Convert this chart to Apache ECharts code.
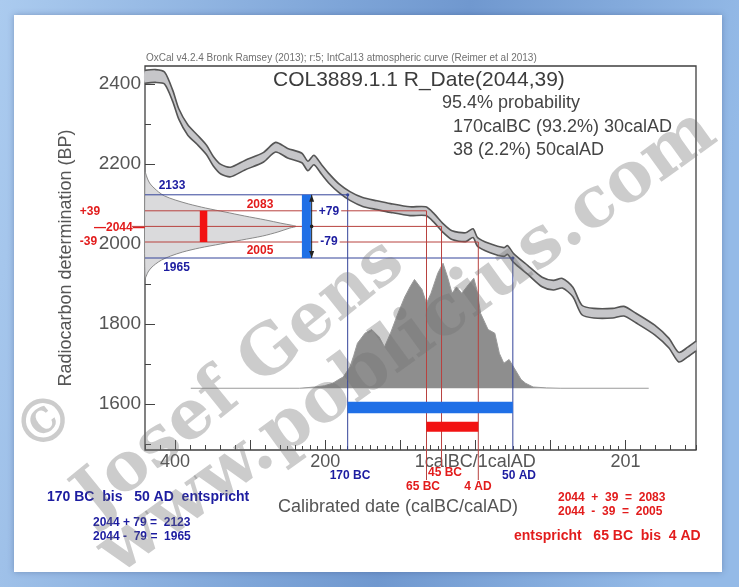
<!DOCTYPE html>
<html>
<head>
<meta charset="utf-8">
<script src="https://cdn.jsdelivr.net/npm/echarts@6/dist/echarts.min.js"></script>
<style>
html,body{margin:0;padding:0;background:#fff;}
#c{width:739px;height:587px;}
</style>
</head>
<body>
<div id="c"></div>
<script>
// ---------- DATA ----------
// IntCal13 calibration curve: calendar year (BC negative) -> radiocarbon age BP, with 1-sigma half width
const calYears = [-440,-426,-414,-403,-395,-383,-370,-358,-349,-339,-326,-307,-282,-266,-250,-231,-223,-215,-205,-194,-182,-167,-150,-131,-113,-87,-66,-55,-43,-31,-13,-3,3,19,38,43,51,70,89,104,116,130,142,158,183,198,214,239,258,271,283,294];
const calBP    = [2418,2420,2415,2370,2325,2285,2260,2235,2207,2187,2180,2197,2217,2242,2227,2215,2195,2210,2187,2162,2140,2120,2105,2097,2090,2082,2082,2065,2040,2022,2017,2027,2005,1990,1980,1985,1965,1935,1905,1897,1902,1880,1835,1827,1827,1832,1815,1785,1752,1717,1730,1745];
const calErr   = [16,16,15,14,13,13,12,12,12,12,12,12,12,12,12,12,12,12,12,12,11,11,11,11,11,11,11,11,11,11,11,11,11,11,11,11,11,11,12,12,12,12,12,12,12,12,12,12,12,12,12,12];

// Radiocarbon determination R_Date(2044,39): BP -> relative probability
const rDensBP = [2180,2170,2160,2150,2140,2130,2120,2110,2100,2090,2080,2070,2060,2052,2047,2044,2040,2030,2020,2010,2000,1990,1980,1970,1960,1950,1940,1930,1915];
const rDens   = [0,0.01,0.02,0.035,0.06,0.09,0.13,0.2,0.29,0.4,0.53,0.66,0.8,0.9,0.97,1.0,0.96,0.88,0.78,0.64,0.5,0.36,0.25,0.17,0.11,0.07,0.04,0.02,0];

// Calibrated date distribution: calendar year -> relative probability
const postYears = [-379,-234,-214,-201,-190,-182,-176,-167,-162,-157,-147,-138,-128,-121,-113,-103,-94,-87,-81,-71,-65,-59,-50,-43,-37,-31,-25,-18,-9,-2,2,7,17,26,32,38,45,51,61,67,77,95,113,231];
const postDens  = [0,0,0.01,0.02,0.04,0.07,0.09,0.17,0.26,0.36,0.44,0.47,0.41,0.33,0.44,0.60,0.73,0.81,0.87,0.79,0.68,0.76,0.92,1.00,0.89,0.76,0.81,0.76,0.83,0.88,0.79,0.60,0.47,0.44,0.28,0.20,0.23,0.17,0.07,0.04,0.01,0.003,0,0];

// Tick labels
const xLabelValues = [-400,-200,0,200];
const xLabelTexts  = ['400','200','1calBC/1calAD','201'];
const xMajorTicks  = [-400,-300,-200,-100,0,100,200];
const yLabelValues = [1600,1800,2000,2200,2400];
const yMidTicks    = [1500,1700,1900,2100,2300];

// Annotation values
const rDate = 2044, sigma = 39;
const sigma1 = [2083, 2005];      // 2044 +/- 39
const sigma2 = [2123, 1965];      // 2044 +/- 79
const range95 = [-170, 50];       // 170 BC .. 50 AD
const range68 = [-65, 4];         // 65 BC .. 4 AD
const meanYear = -45;             // 45 BC

// ---------- LAYOUT / STYLE ----------
const X_MIN = -440, X_MAX = 294, Y_MIN = 1485, Y_MAX = 2445;
const DENS_X_MAX = 3.65, POST_Y_MIN = -0.494, POST_Y_MAX = 2.578;
const FONT = '"Liberation Sans", Arial, Helvetica, sans-serif';
const BLUE_T = '#1c1ca0', RED_T = '#e21c1c';
const BLUE_L = '#34449a', RED_L = '#b8423f';
const BLUE_BAR = '#1f6fe6', RED_BAR = '#f21212';

const xFineTicks = [];
for (let v = -250; v <= 190; v += 20) xFineTicks.push(v);
const yFineTicks = [];
for (let v = 1940; v <= 2150; v += 10) yFineTicks.push(v);

const tickStyle = {color:'#444', width:1};

function T(text, x, y, o) {
  o = o || {};
  const align = o.align || 'center';
  const va = o.va || 'middle';
  const st = {
    text: text, fill: o.color || '#444',
    fontSize: o.size || 12, fontWeight: o.weight || 'normal',
    fontFamily: o.family || FONT,
    align: align, verticalAlign: va, textAlign: align, textVerticalAlign: va
  };
  if (o.bg) { st.backgroundColor = o.bg; st.padding = [0, 2]; }
  const el = {type:'text', x:x, y:y, z: o.z || 50, silent:true, style: st};
  if (o.rot) el.rotation = o.rot;
  return el;
}

const WM_FONT = '"DejaVu Serif", "Liberation Serif", serif';
const WM_COLOR = 'rgba(115,115,115,0.36)';

const graphics = [
  {type:'rect', z:-10, silent:true, shape:{x:14,y:15,width:708,height:557},
   style:{fill:'#ffffff', shadowBlur:6, shadowColor:'rgba(40,60,110,0.35)'}},
  T('OxCal v4.2.4 Bronk Ramsey (2013); r:5; IntCal13 atmospheric curve (Reimer et al 2013)', 146, 58, {align:'left', size:10, color:'#707070'}),
  T('COL3889.1.1 R_Date(2044,39)', 273, 80, {align:'left', size:21, color:'#3c3c3c'}),
  T('95.4% probability', 442, 103, {align:'left', size:18, color:'#444'}),
  T('170calBC (93.2%) 30calAD', 453, 127, {align:'left', size:18, color:'#444'}),
  T('38 (2.2%) 50calAD', 453, 150, {align:'left', size:18, color:'#444'}),
  // y-side annotations
  T('2133', 172, 186, {size:12, weight:'bold', color:BLUE_T}),
  T('1965', 176.5, 268, {size:12, weight:'bold', color:BLUE_T}),
  T('2083', 260, 205, {size:12, weight:'bold', color:RED_T}),
  T('2005', 260, 251, {size:12, weight:'bold', color:RED_T}),
  T('+39', 90, 212, {size:12, weight:'bold', color:RED_T}),
  T('-39', 88.5, 241.5, {size:12, weight:'bold', color:RED_T}),
  T('\u20142044\u2014', 94, 227.5, {align:'left', size:12, weight:'bold', color:RED_T}),
  T('+79', 329, 211.5, {size:12, weight:'bold', color:BLUE_T, bg:'#ffffff'}),
  T('-79', 329, 242, {size:12, weight:'bold', color:BLUE_T, bg:'#ffffff'}),
  // x-side annotations
  T('170 BC', 350, 476, {size:12, weight:'bold', color:BLUE_T}),
  T('50 AD', 519, 476, {size:12, weight:'bold', color:BLUE_T}),
  T('45 BC', 445, 473, {size:12, weight:'bold', color:RED_T}),
  T('65 BC', 423, 486.5, {size:12, weight:'bold', color:RED_T}),
  T('4 AD', 478, 486.5, {size:12, weight:'bold', color:RED_T}),
  T('Calibrated date (calBC/calAD)', 398, 507, {size:18, color:'#555'}),
  T('170 BC  bis   50 AD  entspricht', 47, 497.5, {align:'left', size:14, weight:'bold', color:BLUE_T}),
  T('2044 + 79 =  2123', 93, 522.5, {align:'left', size:12, weight:'bold', color:BLUE_T}),
  T('2044 -  79 =  1965', 93, 537, {align:'left', size:12, weight:'bold', color:BLUE_T}),
  T('2044  +  39  =  2083', 558, 497.5, {align:'left', size:12, weight:'bold', color:RED_T}),
  T('2044  -  39  =  2005', 558, 512, {align:'left', size:12, weight:'bold', color:RED_T}),
  T('entspricht   65 BC  bis  4 AD', 514, 536, {align:'left', size:14, weight:'bold', color:RED_T}),
  // watermark
  T('\u00A9', 47, 425, {size:60, weight:'bold', family:WM_FONT, color:WM_COLOR, rot:0.68, z:100}),
  T('Josef Gens', 240, 380, {size:68, weight:'bold', family:WM_FONT, color:WM_COLOR, rot:0.68, z:100}),
  T('www.poblicius.com', 408, 343, {size:70, weight:'bold', family:WM_FONT, color:WM_COLOR, rot:0.627, z:100})
];

const chart = echarts.init(document.getElementById('c'), null, {renderer:'canvas'});

function hiddenLine() { return {show:false, onZero:false}; }

const option = {
  animation: false,
  backgroundColor: {type:'linear', x:0, y:0, x2:1, y2:0.2, colorStops:[
    {offset:0, color:'#abcbef'}, {offset:0.45, color:'#7ea5d8'},
    {offset:0.62, color:'#7098cf'}, {offset:1, color:'#94bae7'}]},
  grid: {left:145, right:43, top:66, bottom:137, show:true, borderColor:'#3f3f3f', borderWidth:1.3,
         backgroundColor:'transparent', containLabel:false, outerBoundsMode:'none'},
  graphic: graphics,
  xAxis: [
    {type:'value', min:X_MIN, max:X_MAX, interval:20, position:'bottom',
     axisLine:hiddenLine(), splitLine:{show:false},
     axisTick:{show:true, inside:true, length:5, lineStyle:tickStyle},
     axisLabel:{customValues:xLabelValues, formatter:function(v){const i = xLabelValues.indexOf(v); return i >= 0 ? xLabelTexts[i] : '';},
                color:'#555', fontSize:18, fontFamily:FONT, margin:3}},
    {type:'value', min:X_MIN, max:X_MAX, position:'bottom',
     axisLine:hiddenLine(), splitLine:{show:false},
     axisTick:{show:true, inside:true, length:10, customValues:xMajorTicks, lineStyle:tickStyle},
     axisLabel:{show:false}},
    {type:'value', min:0, max:DENS_X_MAX, position:'top', show:false, axisLine:hiddenLine(), splitLine:{show:false}},
    {type:'value', min:X_MIN, max:X_MAX, position:'bottom',
     axisLine:hiddenLine(), splitLine:{show:false},
     axisTick:{show:true, inside:true, length:4, customValues:xFineTicks, lineStyle:tickStyle},
     axisLabel:{show:false}}
  ],
  yAxis: [
    {type:'value', min:Y_MIN, max:Y_MAX, position:'left',
     axisLine:hiddenLine(), splitLine:{show:false},
     axisTick:{show:true, inside:true, length:10, customValues:yLabelValues, lineStyle:tickStyle},
     axisLabel:{customValues:yLabelValues, formatter:function(v){return String(v);},
                color:'#555', fontSize:19, fontFamily:FONT, margin:4},
     name:'Radiocarbon determination (BP)', nameLocation:'middle', nameGap:70,
     nameTextStyle:{fontSize:18, color:'#555', fontFamily:FONT}},
    {type:'value', min:POST_Y_MIN, max:POST_Y_MAX, position:'right', show:false, axisLine:hiddenLine(), splitLine:{show:false}},
    {type:'value', min:Y_MIN, max:Y_MAX, position:'left',
     axisLine:hiddenLine(), splitLine:{show:false},
     axisTick:{show:true, inside:true, length:6, customValues:yMidTicks, lineStyle:tickStyle},
     axisLabel:{show:false}},
    {type:'value', min:Y_MIN, max:Y_MAX, position:'left',
     axisLine:hiddenLine(), splitLine:{show:false},
     axisTick:{show:true, inside:true, length:4, customValues:yFineTicks, lineStyle:tickStyle},
     axisLabel:{show:false}}
  ],
  series: [
    { // calibration curve band
      type:'custom', xAxisIndex:0, yAxisIndex:0, z:1, silent:true, clip:false,
      data:[[calYears[0], calBP[0]]],
      renderItem:function(params, api){
        const up = calYears.map((x,i)=>api.coord([x, calBP[i] + calErr[i]]));
        const lo = calYears.map((x,i)=>api.coord([x, calBP[i] - calErr[i]]));
        return {type:'group', children:[
          {type:'polygon', shape:{points: up.concat(lo.slice().reverse()), smooth:0.25}, style:{fill:'#c6c6c9'}},
          {type:'polyline', shape:{points: up, smooth:0.25}, style:{stroke:'#555', lineWidth:1.6, fill:null}},
          {type:'polyline', shape:{points: lo, smooth:0.25}, style:{stroke:'#555', lineWidth:1.6, fill:null}}
        ]};
      }
    },
    { // radiocarbon determination on y axis
      type:'custom', xAxisIndex:2, yAxisIndex:0, z:2, silent:true, clip:false,
      data:[[0, rDate]],
      renderItem:function(params, api){
        const pts = rDensBP.map((bp,i)=>api.coord([rDens[i], bp]));
        return {type:'polygon', shape:{points: pts, smooth:0.3},
                style:{fill:'#dadadc', stroke:'#8a8a8a', lineWidth:1}};
      }
    },
    { // calibrated date distribution
      type:'line', xAxisIndex:0, yAxisIndex:1, z:2, silent:true,
      data: postYears.map((x,i)=>[x, postDens[i]]),
      symbol:'none', smooth:false,
      lineStyle:{color:'#9a9a9a', width:1},
      areaStyle:{color:'#8e8e8e', opacity:1}
    },
    { // annotations
      type:'custom', xAxisIndex:0, yAxisIndex:0, z:5, silent:true, clip:false,
      data:[[meanYear, rDate]],
      renderItem:function(params, api){
        const c = (x,y)=>api.coord([x,y]);
        const bottom = c(X_MIN, Y_MIN)[1];
        const ch = [];
        const seg = (a, b, color, w) => ch.push({type:'line', shape:{x1:a[0], y1:a[1], x2:b[0], y2:b[1]}, style:{stroke:color, lineWidth:w}});
        // blue 2-sigma lines
        seg(c(X_MIN, sigma2[0]), c(range95[0], sigma2[0]), BLUE_L, 1);
        seg(c(X_MIN, sigma2[1]), c(range95[1], sigma2[1]), BLUE_L, 1);
        seg(c(range95[0], sigma2[0]), [c(range95[0], Y_MIN)[0], bottom], BLUE_L, 1);
        seg(c(range95[1], sigma2[1]), [c(range95[1], Y_MIN)[0], bottom], BLUE_L, 1);
        // red 1-sigma lines
        const leftStub = c(X_MIN, rDate); leftStub[0] -= 13;
        seg(c(X_MIN, sigma1[0]), c(range68[0], sigma1[0]), RED_L, 1);
        seg(leftStub, c(meanYear, rDate), RED_L, 1);
        seg(c(X_MIN, sigma1[1]), c(range68[1], sigma1[1]), RED_L, 1);
        seg(c(range68[0], sigma1[0]), [c(range68[0], Y_MIN)[0], bottom + 30], RED_L, 1);
        seg(c(meanYear, rDate), [c(meanYear, Y_MIN)[0], bottom + 17], RED_L, 1);
        seg(c(range68[1], sigma1[1]), [c(range68[1], Y_MIN)[0], bottom + 30], RED_L, 1);
        // horizontal range bars
        const hb = (x1, x2, bp, h, color) => { const a = c(x1, bp), b = c(x2, bp);
          ch.push({type:'rect', shape:{x:a[0], y:a[1]-h/2, width:b[0]-a[0], height:h}, style:{fill:color}}); };
        hb(range95[0], range95[1], 1591, 11.5, BLUE_BAR);
        hb(range68[0], range68[1], 1543, 10, RED_BAR);
        // vertical bars
        const vb = (x, bp1, bp2, w, color) => { const a = c(x, bp1), b = c(x, bp2);
          ch.push({type:'rect', shape:{x:a[0]-w/2, y:a[1], width:w, height:b[1]-a[1]}, style:{fill:color}}); };
        vb(-225, sigma2[0], sigma2[1], 9, BLUE_BAR);
        vb(-362, sigma1[0], sigma1[1], 7.5, RED_BAR);
        // arrow line
        const at = c(-218, sigma2[0]), ab = c(-218, sigma2[1]), am = c(-218, rDate);
        seg(at, ab, '#222', 1);
        ch.push({type:'polygon', shape:{points:[[at[0], at[1]], [at[0]-2.5, at[1]+7], [at[0]+2.5, at[1]+7]]}, style:{fill:'#222'}});
        ch.push({type:'polygon', shape:{points:[[ab[0], ab[1]], [ab[0]-2.5, ab[1]-7], [ab[0]+2.5, ab[1]-7]]}, style:{fill:'#222'}});
        ch.push({type:'circle', shape:{cx:am[0], cy:am[1], r:1.8}, style:{fill:'#222'}});
        // intersection dots
        const d1 = c(range95[0], sigma2[0]), d2 = c(range95[1], sigma2[1]);
        ch.push({type:'circle', shape:{cx:d1[0], cy:d1[1], r:1.6}, style:{fill:BLUE_L}});
        ch.push({type:'circle', shape:{cx:d2[0], cy:d2[1], r:1.6}, style:{fill:BLUE_L}});
        return {type:'group', children:ch};
      }
    }
  ]
};
chart.setOption(option);
</script>
</body>
</html>
